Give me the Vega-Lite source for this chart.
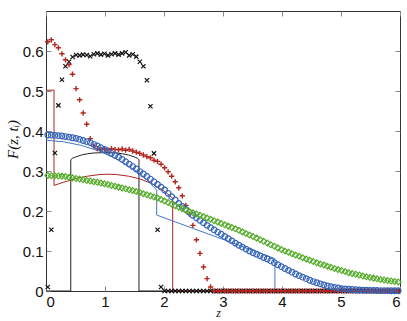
{
"$schema": "https://vega.github.io/schema/vega-lite/v6.json",
"width": 354, "height": 280,
"autosize": {"type": "none"},
"padding": {"left": 46, "top": 11, "right": 7, "bottom": 30},
"background": "white",
"config": {
  "view": {"stroke": "#333", "strokeWidth": 1},
  "axis": {"domain": false, "grid": false, "tickColor": "#888", "tickSize": -5, "labelFont": "Liberation Sans", "labelFontSize": 15, "labelColor": "#111", "titleFont": "Liberation Serif", "titleFontStyle": "italic", "titleFontWeight": "normal", "titleColor": "#111"}
},
"datasets": {
  "pts": [
    {"z":0.03,"b":0.01,"r":0.623,"u":0.390,"g":0.2888},
    {"z":0.09,"b":0.153,"r":0.628,"u":0.3895,"g":0.2884},
    {"z":0.15,"b":0.345,"r":0.616,"u":0.3889,"g":0.288},
    {"z":0.21,"b":0.464,"r":0.608,"u":0.3883,"g":0.2876},
    {"z":0.27,"b":0.528,"r":0.593,"u":0.3875,"g":0.2872},
    {"z":0.33,"b":0.562,"r":0.578,"u":0.3861,"g":0.2862},
    {"z":0.39,"b":0.573,"r":0.566,"u":0.3846,"g":0.2846},
    {"z":0.45,"b":0.585,"r":0.542,"u":0.3832,"g":0.283},
    {"z":0.51,"b":0.590,"r":0.506,"u":0.3816,"g":0.2814},
    {"z":0.57,"b":0.589,"r":0.478,"u":0.3789,"g":0.2798},
    {"z":0.63,"b":0.591,"r":0.445,"u":0.3763,"g":0.2782},
    {"z":0.69,"b":0.590,"r":0.417,"u":0.3736,"g":0.2765},
    {"z":0.75,"b":0.587,"r":0.381,"u":0.371,"g":0.2749},
    {"z":0.81,"b":0.592,"r":0.362,"u":0.3667,"g":0.2732},
    {"z":0.87,"b":0.594,"r":0.356,"u":0.3624,"g":0.2716},
    {"z":0.93,"b":0.591,"r":0.354,"u":0.358,"g":0.2699},
    {"z":0.99,"b":0.593,"r":0.355,"u":0.3537,"g":0.2683},
    {"z":1.05,"b":0.589,"r":0.353,"u":0.349,"g":0.2662},
    {"z":1.11,"b":0.592,"r":0.356,"u":0.3442,"g":0.264},
    {"z":1.17,"b":0.594,"r":0.354,"u":0.3394,"g":0.2619},
    {"z":1.23,"b":0.591,"r":0.353,"u":0.3346,"g":0.2597},
    {"z":1.29,"b":0.594,"r":0.355,"u":0.329,"g":0.2576},
    {"z":1.35,"b":0.597,"r":0.352,"u":0.323,"g":0.2554},
    {"z":1.41,"b":0.589,"r":0.354,"u":0.317,"g":0.2532},
    {"z":1.47,"b":0.592,"r":0.350,"u":0.311,"g":0.2511},
    {"z":1.53,"b":0.586,"r":0.347,"u":0.3049,"g":0.2487},
    {"z":1.59,"b":0.573,"r":0.344,"u":0.2986,"g":0.246},
    {"z":1.65,"b":0.562,"r":0.340,"u":0.2924,"g":0.2433},
    {"z":1.71,"b":0.527,"r":0.336,"u":0.2862,"g":0.2406},
    {"z":1.77,"b":0.462,"r":0.333,"u":0.2798,"g":0.2379},
    {"z":1.83,"b":0.344,"r":0.327,"u":0.273,"g":0.2352},
    {"z":1.89,"b":0.153,"r":0.324,"u":0.2663,"g":0.2325},
    {"z":1.95,"b":0.010,"r":0.317,"u":0.2596,"g":0.2288},
    {"z":2.01,"b":0,"r":0.308,"u":0.2526,"g":0.225},
    {"z":2.07,"b":0,"r":0.298,"u":0.2442,"g":0.2211},
    {"z":2.13,"b":0,"r":0.287,"u":0.2358,"g":0.2173},
    {"z":2.19,"b":0,"r":0.273,"u":0.2274,"g":0.2134},
    {"z":2.25,"b":0,"r":0.258,"u":0.219,"g":0.2096},
    {"z":2.31,"b":0,"r":0.238,"u":0.2116,"g":0.2058},
    {"z":2.37,"b":0,"r":0.214,"u":0.2041,"g":0.2019},
    {"z":2.43,"b":0,"r":0.192,"u":0.1967,"g":0.1985},
    {"z":2.49,"b":0,"r":0.164,"u":0.1892,"g":0.1955},
    {"z":2.55,"b":0,"r":0.128,"u":0.1828,"g":0.1925},
    {"z":2.61,"b":0,"r":0.094,"u":0.1766,"g":0.1894},
    {"z":2.67,"b":0,"r":0.060,"u":0.1703,"g":0.186},
    {"z":2.73,"b":0,"r":0.031,"u":0.1641,"g":0.1826},
    {"z":2.79,"b":0,"r":0.010,"u":0.1583,"g":0.1792},
    {"z":2.85,"b":0,"r":0,"u":0.1528,"g":0.1758},
    {"z":2.91,"b":0,"r":0,"u":0.1473,"g":0.1724},
    {"z":2.97,"b":0,"r":0,"u":0.1418,"g":0.169},
    {"z":3.03,"b":0,"r":0,"u":0.1362,"g":0.1656},
    {"z":3.09,"b":0,"r":0,"u":0.1307,"g":0.1622},
    {"z":3.15,"b":0,"r":0,"u":0.1252,"g":0.1588},
    {"z":3.21,"b":0,"r":0,"u":0.1197,"g":0.1554},
    {"z":3.27,"b":0,"r":0,"u":0.1144,"g":0.1516},
    {"z":3.33,"b":0,"r":0,"u":0.1096,"g":0.1478},
    {"z":3.39,"b":0,"r":0,"u":0.1048,"g":0.144},
    {"z":3.45,"b":0,"r":0,"u":0.1,"g":0.1402},
    {"z":3.51,"b":0,"r":0,"u":0.0956,"g":0.1363},
    {"z":3.57,"b":0,"r":0,"u":0.0918,"g":0.1322},
    {"z":3.63,"b":0,"r":0,"u":0.0879,"g":0.1282},
    {"z":3.69,"b":0,"r":0,"u":0.0838,"g":0.1241},
    {"z":3.75,"b":0,"r":0,"u":0.080,"g":0.12},
    {"z":3.81,"b":0,"r":0,"u":0.0752,"g":0.1159},
    {"z":3.87,"b":0,"r":0,"u":0.0704,"g":0.1118},
    {"z":3.93,"b":0,"r":0,"u":0.0656,"g":0.1078},
    {"z":3.99,"b":0,"r":0,"u":0.0608,"g":0.1037},
    {"z":4.05,"b":0,"r":0,"u":0.0562,"g":0.1002},
    {"z":4.11,"b":0,"r":0,"u":0.0516,"g":0.0968},
    {"z":4.17,"b":0,"r":0,"u":0.0471,"g":0.0934},
    {"z":4.23,"b":0,"r":0,"u":0.0425,"g":0.09},
    {"z":4.29,"b":0,"r":0,"u":0.0384,"g":0.0866},
    {"z":4.35,"b":0,"r":0,"u":0.0346,"g":0.0833},
    {"z":4.41,"b":0,"r":0,"u":0.0308,"g":0.0801},
    {"z":4.47,"b":0,"r":0,"u":0.0269,"g":0.0769},
    {"z":4.53,"b":0,"r":0,"u":0.0236,"g":0.0737},
    {"z":4.59,"b":0,"r":0,"u":0.0207,"g":0.0705},
    {"z":4.65,"b":0,"r":0,"u":0.0178,"g":0.0677},
    {"z":4.71,"b":0,"r":0,"u":0.0149,"g":0.0649},
    {"z":4.77,"b":0,"r":0,"u":0.0124,"g":0.0621},
    {"z":4.83,"b":0,"r":0,"u":0.0108,"g":0.0593},
    {"z":4.89,"b":0,"r":0,"u":0.0091,"g":0.0565},
    {"z":4.95,"b":0,"r":0,"u":0.0074,"g":0.0538},
    {"z":5.01,"b":0,"r":0,"u":0.0059,"g":0.0512},
    {"z":5.07,"b":0,"r":0,"u":0.0052,"g":0.0485},
    {"z":5.13,"b":0,"r":0,"u":0.0044,"g":0.0459},
    {"z":5.19,"b":0,"r":0,"u":0.0037,"g":0.0438},
    {"z":5.25,"b":0,"r":0,"u":0.003,"g":0.0417},
    {"z":5.31,"b":0,"r":0,"u":0.0026,"g":0.0398},
    {"z":5.37,"b":0,"r":0,"u":0.0022,"g":0.0377},
    {"z":5.43,"b":0,"r":0,"u":0.0019,"g":0.0357},
    {"z":5.49,"b":0,"r":0,"u":0.0015,"g":0.0339},
    {"z":5.55,"b":0,"r":0,"u":0.0014,"g":0.0322},
    {"z":5.61,"b":0,"r":0,"u":0.0012,"g":0.0305},
    {"z":5.67,"b":0,"r":0,"u":0.001,"g":0.0288},
    {"z":5.73,"b":0,"r":0,"u":0.0009,"g":0.0274},
    {"z":5.79,"b":0,"r":0,"u":0.0008,"g":0.0262},
    {"z":5.85,"b":0,"r":0,"u":0.0007,"g":0.025},
    {"z":5.91,"b":0,"r":0,"u":0.0006,"g":0.0238},
    {"z":5.97,"b":0,"r":0,"u":0.0005,"g":0.0226}
  ],
  "lines": [
    {"s":"k","o":0,"z":0,"F":0},
    {"s":"k","o":1,"z":0.42,"F":0},
    {"s":"k","o":2,"z":0.42,"F":0.328},
    {"s":"k","o":3,"z":0.45,"F":0.332},
    {"s":"k","o":4,"z":0.5,"F":0.335},
    {"s":"k","o":5,"z":0.6,"F":0.34},
    {"s":"k","o":6,"z":0.7,"F":0.343},
    {"s":"k","o":7,"z":0.8,"F":0.345},
    {"s":"k","o":8,"z":1.0,"F":0.346},
    {"s":"k","o":9,"z":1.2,"F":0.345},
    {"s":"k","o":10,"z":1.3,"F":0.343},
    {"s":"k","o":11,"z":1.4,"F":0.34},
    {"s":"k","o":12,"z":1.5,"F":0.335},
    {"s":"k","o":13,"z":1.55,"F":0.332},
    {"s":"k","o":14,"z":1.576,"F":0.328},
    {"s":"k","o":15,"z":1.576,"F":0},
    {"s":"k","o":16,"z":6,"F":0},
    {"s":"r","o":0,"z":0,"F":0.502},
    {"s":"r","o":1,"z":0.136,"F":0.502},
    {"s":"r","o":2,"z":0.136,"F":0.264},
    {"s":"r","o":3,"z":0.3,"F":0.272},
    {"s":"r","o":4,"z":0.5,"F":0.281},
    {"s":"r","o":5,"z":0.7,"F":0.287},
    {"s":"r","o":6,"z":0.9,"F":0.291},
    {"s":"r","o":7,"z":1.05,"F":0.292},
    {"s":"r","o":8,"z":1.2,"F":0.291},
    {"s":"r","o":9,"z":1.4,"F":0.287},
    {"s":"r","o":10,"z":1.6,"F":0.28},
    {"s":"r","o":11,"z":1.8,"F":0.268},
    {"s":"r","o":12,"z":2.0,"F":0.25},
    {"s":"r","o":13,"z":2.147,"F":0.232},
    {"s":"r","o":14,"z":2.147,"F":0},
    {"s":"r","o":15,"z":6,"F":0},
    {"s":"u","o":0,"z":0,"F":0.377},
    {"s":"u","o":1,"z":0.3,"F":0.373},
    {"s":"u","o":2,"z":0.6,"F":0.364},
    {"s":"u","o":3,"z":0.9,"F":0.35},
    {"s":"u","o":4,"z":1.2,"F":0.33},
    {"s":"u","o":5,"z":1.5,"F":0.303},
    {"s":"u","o":6,"z":1.7,"F":0.28},
    {"s":"u","o":7,"z":1.876,"F":0.252},
    {"s":"u","o":8,"z":1.876,"F":0.19},
    {"s":"u","o":9,"z":2.5,"F":0.156},
    {"s":"u","o":10,"z":3.0,"F":0.129},
    {"s":"u","o":11,"z":3.5,"F":0.102},
    {"s":"u","o":12,"z":3.88,"F":0.081},
    {"s":"u","o":13,"z":3.88,"F":0},
    {"s":"u","o":14,"z":6,"F":0}
  ]
},
"layer": [
  {
    "data": {"name": "lines"},
    "mark": {"type": "line", "strokeWidth": 1},
    "encoding": {
      "x": {"field": "z", "type": "quantitative", "scale": {"domain": [0, 6], "nice": false, "zero": false},
            "axis": {"orient": "bottom", "values": [0,1,2,3,4,5,6], "format": "d", "labelFontSize": 15, "labelPadding": 8, "title": "z", "titleFontSize": 12, "titleX": 172, "titleY": 25, "titleBaseline": "alphabetic"}},
      "y": {"field": "F", "type": "quantitative", "scale": {"domain": [0, 0.7], "nice": false},
            "axis": {"orient": "left", "values": [0,0.1,0.2,0.3,0.4,0.5,0.6], "format": "~g", "labelFontSize": 15, "labelPadding": 8, "title": "F(z, tᵢ)", "titleFontSize": 15, "titlePadding": 2, "titleY": 128}},
      "color": {"field": "s", "type": "nominal", "scale": {"domain": ["k","r","u"], "range": ["#222222","#a8281f","#4677c4"]}, "legend": null},
      "order": {"field": "o", "type": "quantitative"}
    }
  },
  {
    "data": {"name": "pts"},
    "mark": {"type": "point", "shape": "M-1,-1L1,1M1,-1L-1,1", "size": 18, "filled": false, "color": "#111", "strokeWidth": 1.2, "opacity": 1},
    "encoding": {
      "x": {"field": "z", "type": "quantitative", "scale": {"domain": [0, 6], "nice": false, "zero": false},
            "axis": {"orient": "top", "values": [0,1,2,3,4,5,6], "labels": false, "title": null}},
      "y": {"field": "b", "type": "quantitative", "scale": {"domain": [0, 0.7], "nice": false},
            "axis": {"orient": "right", "values": [0,0.1,0.2,0.3,0.4,0.5,0.6], "labels": false, "title": null}}
    }
  },
  {
    "data": {"name": "pts"},
    "mark": {"type": "point", "shape": "M-1,0L1,0M0,-1L0,1", "size": 28, "filled": false, "color": "#b3261e", "strokeWidth": 1.4, "opacity": 1},
    "encoding": {
      "x": {"field": "z", "type": "quantitative", "scale": {"domain": [0, 6], "nice": false, "zero": false}, "axis": null},
      "y": {"field": "r", "type": "quantitative", "scale": {"domain": [0, 0.7], "nice": false}, "axis": null}
    }
  },
  {
    "data": {"name": "pts"},
    "mark": {"type": "point", "shape": "circle", "size": 32, "filled": false, "color": "#3464b8", "strokeWidth": 1.2, "opacity": 1},
    "encoding": {
      "x": {"field": "z", "type": "quantitative", "scale": {"domain": [0, 6], "nice": false, "zero": false}, "axis": null},
      "y": {"field": "u", "type": "quantitative", "scale": {"domain": [0, 0.7], "nice": false}, "axis": null}
    }
  },
  {
    "data": {"name": "pts"},
    "mark": {"type": "point", "shape": "diamond", "size": 34, "filled": false, "color": "#58ad2e", "strokeWidth": 1.2, "opacity": 1},
    "encoding": {
      "x": {"field": "z", "type": "quantitative", "scale": {"domain": [0, 6], "nice": false, "zero": false}, "axis": null},
      "y": {"field": "g", "type": "quantitative", "scale": {"domain": [0, 0.7], "nice": false}, "axis": null}
    }
  }
],
"resolve": {"axis": {"x": "independent", "y": "independent"}}
}
